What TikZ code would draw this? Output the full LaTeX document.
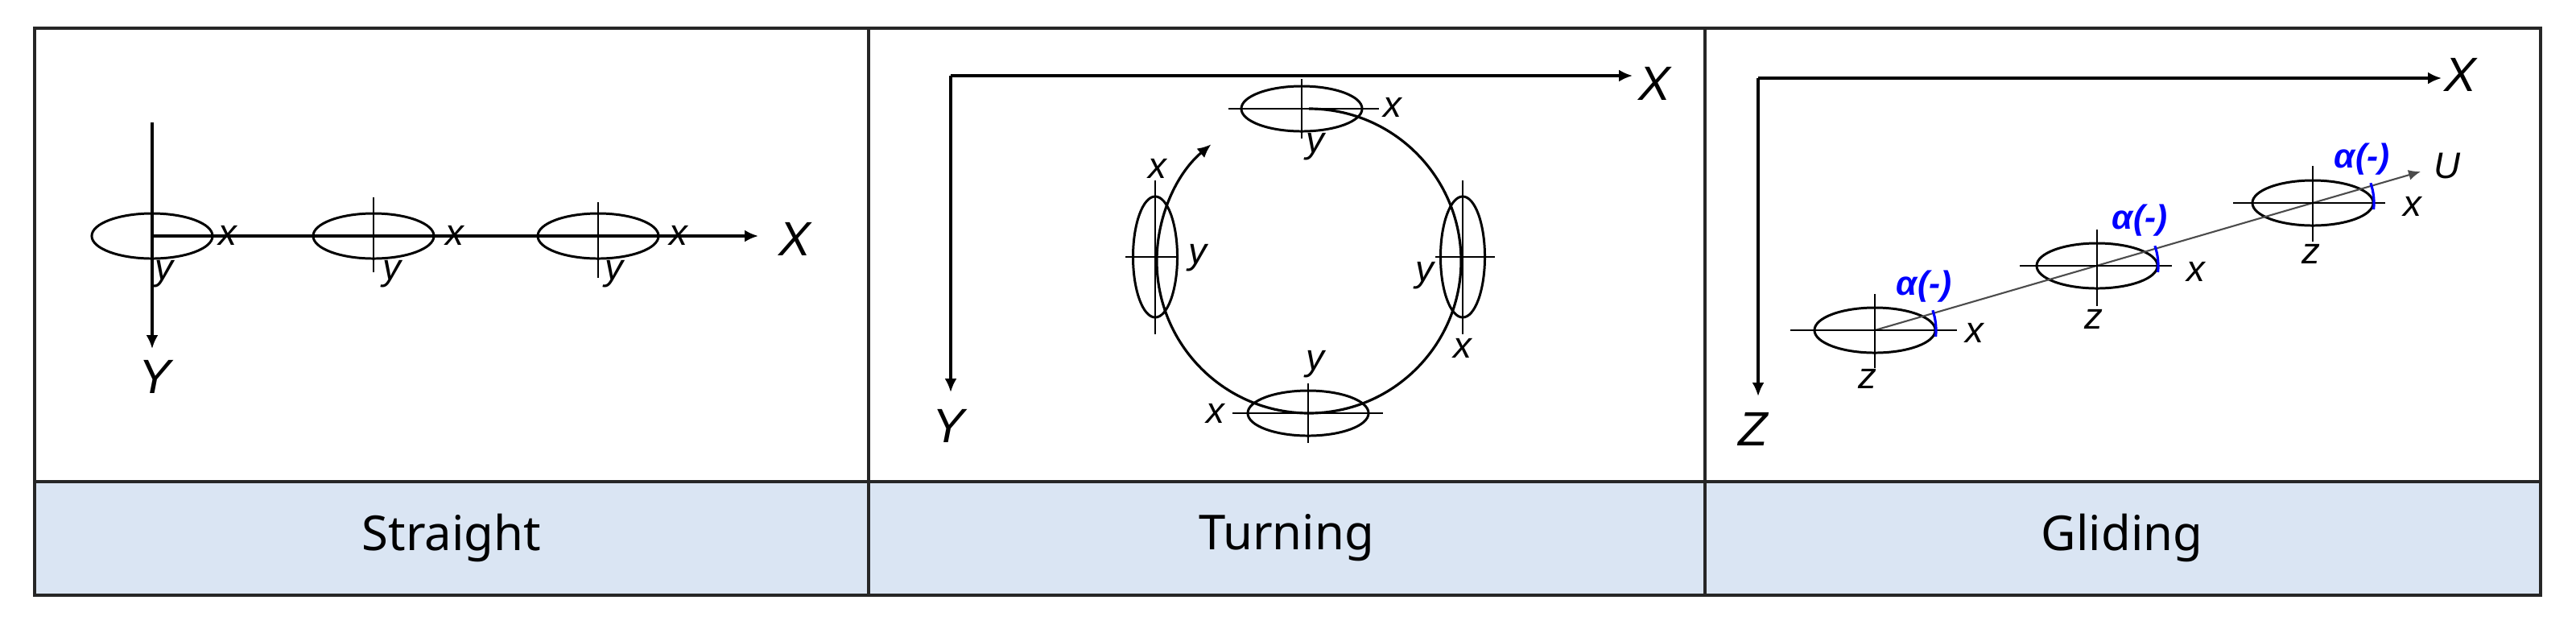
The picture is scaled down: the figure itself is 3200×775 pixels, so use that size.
\documentclass[tikz,border=0pt]{standalone}
\usepackage{fontspec}
\setmainfont{Liberation Sans}
\newfontfamily\hdr{Noto Sans}
\usetikzlibrary{shapes.geometric,arrows.meta}
\begin{document}
\begin{tikzpicture}[x=0.01cm,y=-0.01cm,
  ell/.style={draw,ellipse,line width=0.85pt,inner sep=0pt,minimum width=1.5cm,minimum height=0.56cm},
  vell/.style={draw,ellipse,line width=0.85pt,inner sep=0pt,minimum width=0.55cm,minimum height=1.5cm},
  ax/.style={line width=0.9pt,-{Latex[length=0.17cm,width=0.15cm]}},
  thin/.style={line width=0.5pt},
  big/.style={font=\fontsize{17}{17}\selectfont\itshape},
  sm/.style={font=\fontsize{13}{13}\selectfont\itshape},
  al/.style={font=\fontsize{12}{12}\selectfont\bfseries\itshape,text=blue},
  alarc/.style={blue,line width=0.9pt},
  hd/.style={font=\hdr\fontsize{17}{17}\selectfont\bfseries}]
\useasboundingbox (0,0) rectangle (3200,775);
% table
\fill[fill={rgb,255:red,218;green,229;blue,243}] (43,598) rectangle (3156,739);
\draw[line width=1.1pt,black!85] (43,35) rectangle (3156,739);
\draw[line width=1.1pt,black!85] (43,598) -- (3156,598) (1079,35) -- (1079,739) (2118,35) -- (2118,739);
\node[hd] (h1) at (561,668) {Straight};
\node[hd] (h2) at (1598,668) {Turning};
\node[hd] (h3) at (2636,668) {Gliding};
% ---------- Straight
\coordinate (sYt) at (189,152);
\coordinate (sYe) at (189,433);
\coordinate (sXe) at (942,293);
\node[ell] (s1) at (189,293) {};
\node[ell] (s2) at (464,293) {};
\node[ell] (s3) at (743,293) {};
\draw[ax] (sYt) -- (sYe);
\draw[ax] (s1.center) -- (sXe);
\draw[thin] (464,245) -- (464,338) (743,251) -- (743,345);
\node[big] (sY) at (192,468) {Y};
\node[big,anchor=west] (sX) at (955,297) {X};
\foreach \n/\xx in {a/283,b/565,c/843}{\node[sm] (sx\n) at (\xx,292) {x};}
\foreach \n/\xx in {a/204,b/487,c/763}{\node[sm] (sy\n) at (\xx,340) {y};}
% ---------- Turning
\coordinate (tO) at (1181,94);
\coordinate (tXe) at (2028,94);
\coordinate (tYe) at (1181,487);
\draw[ax] (tO) -- (tXe);
\draw[ax] (tO) -- (tYe);
\node[big] (tX) at (2055,104) {X};
\node[big] (tY) at (1178,529) {Y};
\coordinate (orb) at (1626,324);
\node[ell] (t1) at (1617,135) {};
\node[ell] (t3) at (1625,513) {};
\node[vell] (t2) at (1817,319) {};
\node[vell] (t4) at (1435,319) {};
\draw[line width=0.9pt,-{Latex[length=0.17cm,width=0.15cm]}] ([shift={(-90:189)}]orb) arc[start angle=-90,end angle=230,radius=189];
\draw[thin] (1526,135) -- (1713,135) (1617,98) -- (1617,172);
\draw[thin] (1531,513) -- (1718,513) (1625,476) -- (1625,550);
\draw[thin] (1398,319) -- (1463,319) (1435,224) -- (1435,415);
\draw[thin] (1783,319) -- (1857,319) (1817,224) -- (1817,415);
\node[sm] (t1x) at (1730,133) {x};
\node[sm] (t1y) at (1634,182) {y};
\node[sm] (t3x) at (1510,513) {x};
\node[sm] (t3y) at (1634,452) {y};
\node[sm] (t4x) at (1438,209) {x};
\node[sm] (t4y) at (1488,320) {y};
\node[sm] (t2y) at (1770,342) {y};
\node[sm] (t2x) at (1817,432) {x};
% ---------- Gliding
\coordinate (gO) at (2184,97);
\coordinate (gXe) at (3033,97);
\coordinate (gZe) at (2184,492);
\draw[ax] (gO) -- (gXe);
\draw[ax] (gO) -- (gZe);
\node[big] (gX) at (3056,93) {X};
\node[big] (gZ) at (2178,533) {Z};
\node[ell] (g1) at (2329,410) {};
\node[ell] (g2) at (2605,330) {};
\node[ell] (g3) at (2873,252) {};
\coordinate (gU) at (3007,213);
\draw[line width=0.6pt,black!70,-{Latex[length=0.15cm,width=0.13cm]}] (g1.center) -- (gU);
\node[sm] (gUl) at (3040,206) {U};
\draw[thin] (2224,410) -- (2431,410) (2329,365) -- (2329,457);
\draw[thin] (2509,330) -- (2698,330) (2605,285) -- (2605,380);
\draw[thin] (2774,252) -- (2963,252) (2873,206) -- (2873,300);
\foreach \c in {g1,g2,g3}{\draw[alarc] ([shift={(6:76)}]\c.center) arc[start angle=6,end angle=-19,radius=76];}
\node[sm] (g1x) at (2453,413) {x};
\node[sm] (g2x) at (2728,337) {x};
\node[sm] (g3x) at (2997,256) {x};
\node[sm] (g1z) at (2320,470) {z};
\node[sm] (g2z) at (2601,396) {z};
\node[sm] (g3z) at (2871,315) {z};
\node[al] (a1) at (2390,356) {α(-)};
\node[al] (a2) at (2658,274) {α(-)};
\node[al] (a3) at (2934,198) {α(-)};
\end{tikzpicture}
\end{document}
